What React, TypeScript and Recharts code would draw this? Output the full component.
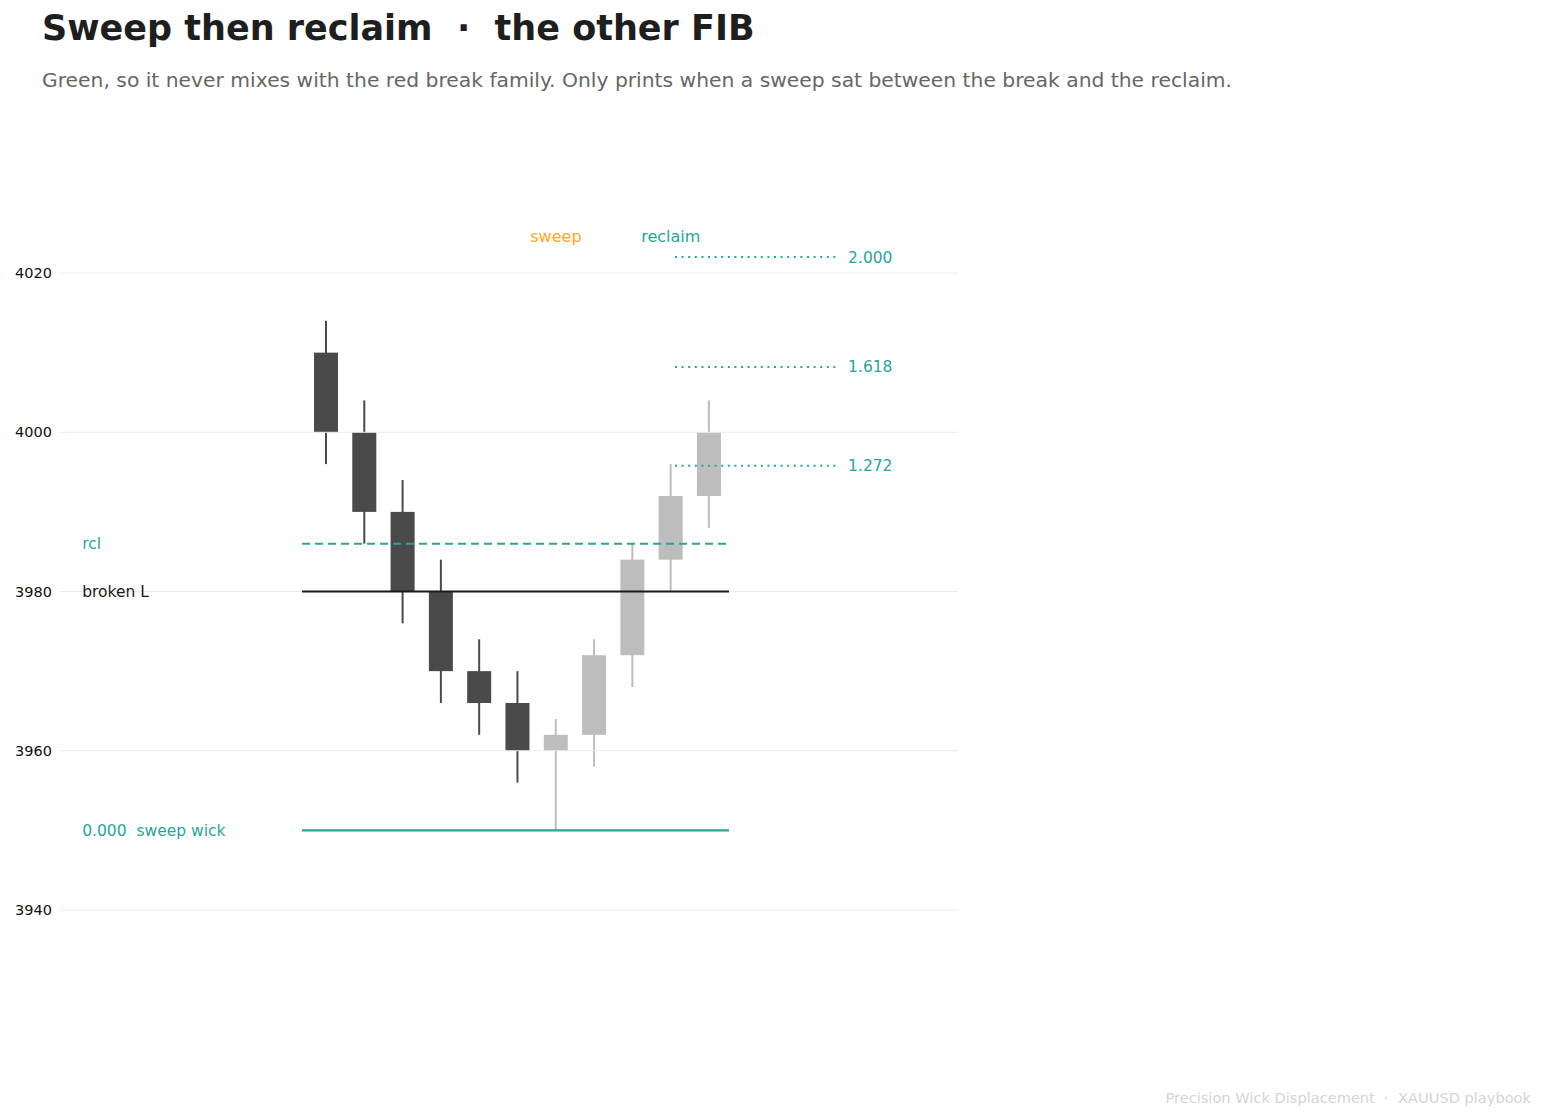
import {
  ComposedChart,
  Bar,
  XAxis,
  YAxis,
  ReferenceLine,
  ReferenceDot,
} from "recharts";

// candles: open / high / low / close, index along the x axis
const candleIndex = [0, 1, 2, 3, 4, 5, 6, 7, 8, 9, 10];
const opens = [4010, 4000, 3990, 3980, 3970, 3966, 3960, 3962, 3972, 3984, 3992];
const highs = [4014, 4004, 3994, 3984, 3974, 3970, 3964, 3974, 3986, 3996, 4004];
const lows = [3996, 3986, 3976, 3966, 3962, 3956, 3950, 3958, 3968, 3980, 3988];
const closes = [4000, 3990, 3980, 3970, 3966, 3960, 3962, 3972, 3984, 3992, 4000];

const yTicks = [3940, 3960, 3980, 4000, 4020];

const brokenLevel = 3980;
const reclaimLevel = 3986;
const sweepWickLevel = 3950;

const fibRatios = ["1.272", "1.618", "2.000"];
const fibLevels = [3995.8, 4008.2, 4022];

const sweepIndex = 6;
const reclaimIndex = 9;

const TEAL = "#26a69a";
const ORANGE = "#ffa726";
const DARK = "#4a4a4a";
const LIGHT = "#bdbdbd";
const FONT = "'DejaVu Sans', sans-serif";

const data = candleIndex.map((i, k) => ({
  i,
  open: opens[k],
  high: highs[k],
  low: lows[k],
  close: closes[k],
  range: [lows[k], highs[k]],
}));

const Candle = (props: any) => {
  const { x, y, width, height, payload } = props;
  if (!payload) return null;
  const { open, high, low, close } = payload;
  const top = Math.min(y, y + height);
  const h = Math.abs(height);
  const perUnit = h / (high - low);
  const color = close >= open ? LIGHT : DARK;
  const bodyTop = top + (high - Math.max(open, close)) * perUnit;
  const bodyH = Math.max(Math.abs(open - close) * perUnit, 1);
  const cx = x + width / 2;
  return (
    <g>
      <line x1={cx} x2={cx} y1={top} y2={top + h} stroke={color} strokeWidth={2} />
      <rect x={x} y={bodyTop} width={width} height={bodyH} fill={color} />
    </g>
  );
};

const textLabel = (value: string, fill: string, position: any = "right") => ({
  value,
  position,
  fill,
  fontSize: 15.5,
  fontFamily: FONT,
});

const App = () => {
  return (
    <div
      style={{
        position: "absolute",
        left: 0,
        top: 0,
        width: 1545,
        height: 1119,
        background: "#fff",
        fontFamily: FONT,
      }}
    >
      <div
        style={{
          position: "absolute",
          left: 42,
          top: 11,
          fontSize: 35,
          lineHeight: "35px",
          fontWeight: "bold",
          color: "#1e1e1e",
          whiteSpace: "nowrap",
        }}
      >
        Sweep then reclaim &nbsp;·&nbsp; the other FIB
      </div>
      <div
        style={{
          position: "absolute",
          left: 42,
          top: 70,
          fontSize: 20.3,
          lineHeight: "21px",
          color: "#666",
          whiteSpace: "nowrap",
        }}
      >
        Green, so it never mixes with the red break family. Only prints when a sweep sat between the break and the reclaim.
      </div>
      <div
        style={{
          position: "absolute",
          right: 14,
          top: 1089,
          fontSize: 14.6,
          lineHeight: "17px",
          color: "#d4d4d4",
          whiteSpace: "nowrap",
        }}
      >
        Precision Wick Displacement &nbsp;·&nbsp; XAUUSD playbook
      </div>
      <div style={{ position: "absolute", left: 0, top: 0 }}>
        <ComposedChart
          width={1545}
          height={1119}
          data={data}
          margin={{ top: 193.4, right: 587, bottom: 49.75, left: 10 }}
        >
          <XAxis
            dataKey="i"
            type="number"
            domain={[-6.95, 16.5]}
            allowDataOverflow
            hide
          />
          <YAxis
            type="number"
            domain={[3920, 4030]}
            ticks={yTicks}
            allowDataOverflow
            width={50}
            axisLine={false}
            tickLine={false}
            tickMargin={2}
            tick={{ fill: "#111", fontSize: 14.5, fontFamily: FONT }}
          />
          {yTicks.map((t) => (
            <ReferenceLine key={`grid-${t}`} y={t} stroke="#ececec" strokeWidth={1} />
          ))}
          <ReferenceLine
            segment={[
              { x: -0.63, y: reclaimLevel },
              { x: 10.45, y: reclaimLevel },
            ]}
            stroke={TEAL}
            strokeWidth={2}
            strokeDasharray="8 5"
          />
          <ReferenceLine
            segment={[
              { x: -0.63, y: sweepWickLevel },
              { x: 10.52, y: sweepWickLevel },
            ]}
            stroke={TEAL}
            strokeWidth={2.2}
          />
          <Bar
            dataKey="range"
            barSize={24}
            shape={<Candle />}
            isAnimationActive={false}
          />
          <ReferenceLine
            segment={[
              { x: -0.63, y: brokenLevel },
              { x: 10.52, y: brokenLevel },
            ]}
            stroke="#1a1a1a"
            strokeWidth={2.2}
          />
          {fibLevels.map((lvl, k) => (
            <ReferenceLine
              key={`fib-${k}`}
              segment={[
                { x: 9.11, y: lvl },
                { x: 13.37, y: lvl },
              ]}
              stroke={TEAL}
              strokeWidth={2}
              strokeDasharray="2 4.6"
            />
          ))}
          {fibLevels.map((lvl, k) => (
            <ReferenceDot
              key={`fibl-${k}`}
              x={13.5}
              y={lvl}
              r={0}
              fill="none"
              stroke="none"
              label={textLabel(fibRatios[k], TEAL)}
            />
          ))}
          <ReferenceDot
            x={-6.5}
            y={reclaimLevel}
            r={0}
            fill="none"
            stroke="none"
            label={textLabel("rcl", TEAL)}
          />
          <ReferenceDot
            x={-6.5}
            y={brokenLevel}
            r={0}
            fill="none"
            stroke="none"
            label={textLabel("broken L", "#1a1a1a")}
          />
          <ReferenceDot
            x={-6.5}
            y={sweepWickLevel}
            r={0}
            fill="none"
            stroke="none"
            label={textLabel("0.000\u00a0 sweep wick", TEAL)}
          />
          <ReferenceDot
            x={sweepIndex}
            y={4024.6}
            r={0}
            fill="none"
            stroke="none"
            label={{ ...textLabel("sweep", ORANGE, "center"), fontSize: 16 }}
          />
          <ReferenceDot
            x={reclaimIndex}
            y={4024.6}
            r={0}
            fill="none"
            stroke="none"
            label={{ ...textLabel("reclaim", TEAL, "center"), fontSize: 16 }}
          />
        </ComposedChart>
      </div>
    </div>
  );
};

export default App;
